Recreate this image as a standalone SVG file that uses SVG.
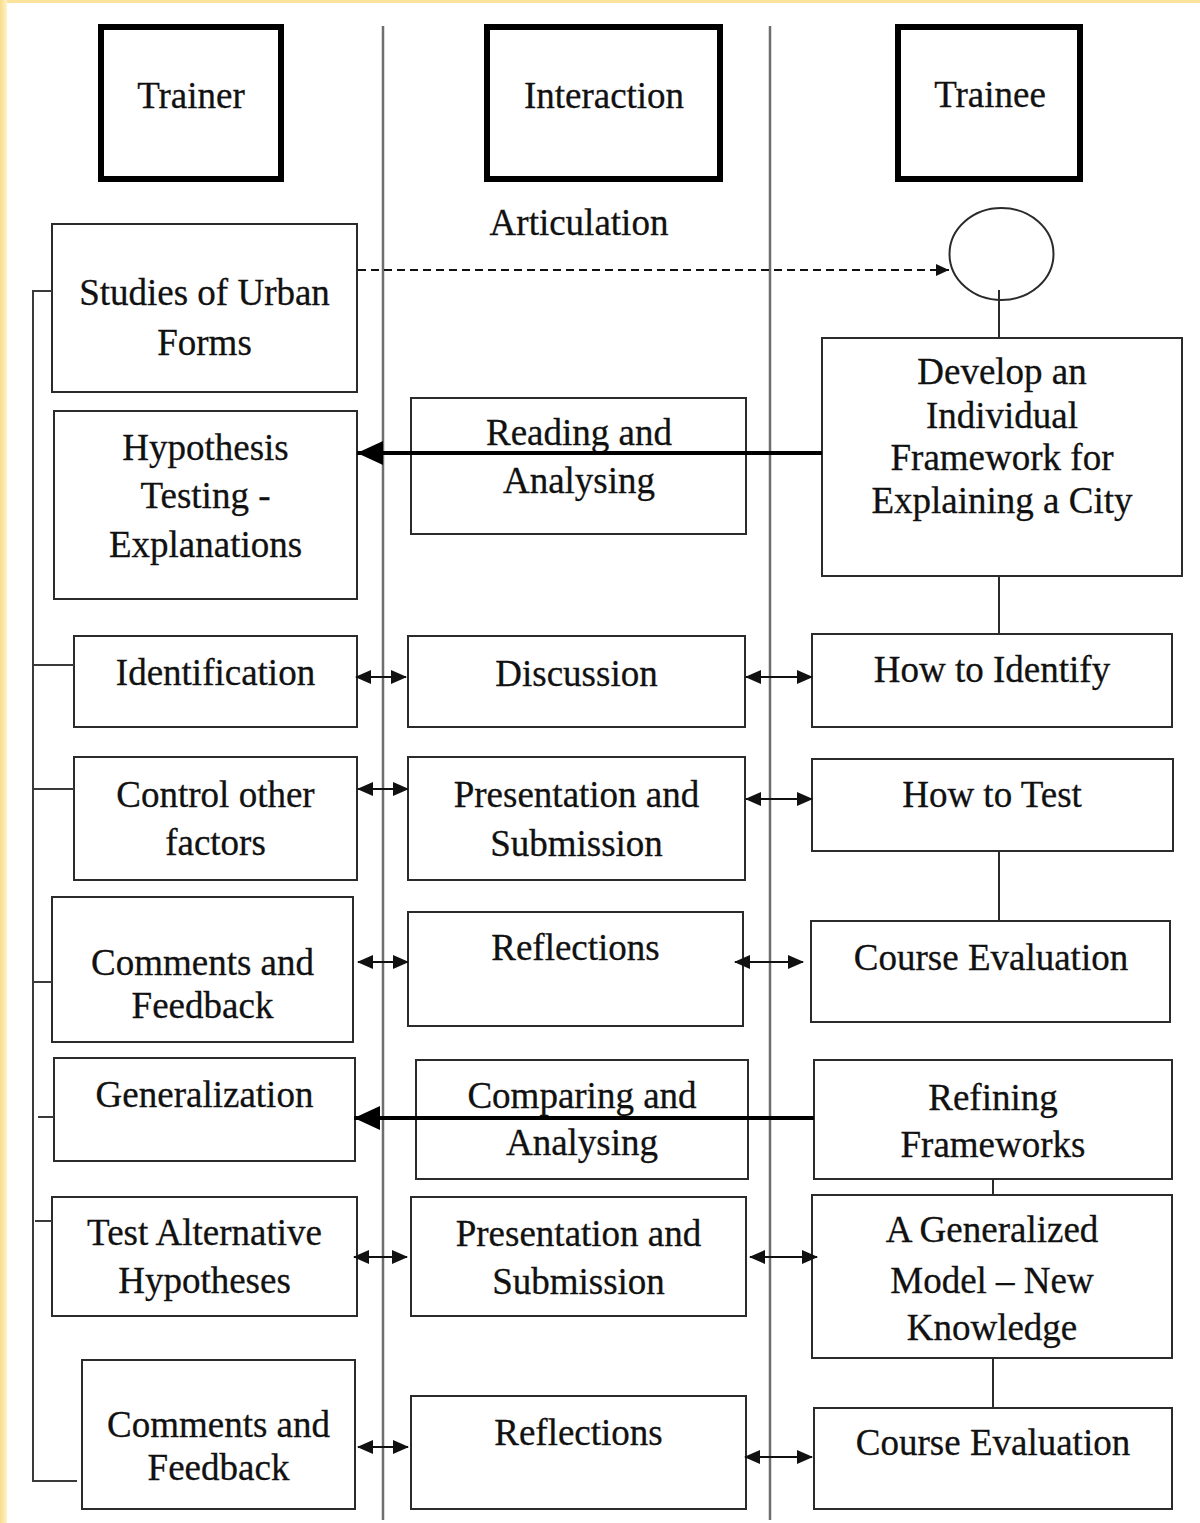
<svg xmlns="http://www.w3.org/2000/svg" width="1200" height="1523" viewBox="0 0 1200 1523">
  <defs>
    <linearGradient id="edgeLeft" x1="0" y1="0" x2="1" y2="0">
      <stop offset="0" stop-color="#f9dc8a"/>
      <stop offset="1" stop-color="#fdf3c8"/>
    </linearGradient>
    <marker id="headSmall" viewBox="0 0 16 16" refX="15" refY="8" markerWidth="16" markerHeight="16" markerUnits="userSpaceOnUse" orient="auto-start-reverse">
      <path d="M0,1 L16,8 L0,15 Z" fill="#111"/>
    </marker>
    <marker id="headBig" viewBox="0 0 26 24" refX="26" refY="12" markerWidth="26" markerHeight="24" markerUnits="userSpaceOnUse" orient="auto">
      <path d="M0,0 L26,12 L0,24 Z" fill="#000"/>
    </marker>
    <marker id="headDash" viewBox="0 0 13 12" refX="13" refY="6" markerWidth="13" markerHeight="12" markerUnits="userSpaceOnUse" orient="auto">
      <path d="M0,0 L13,6 L0,12 Z" fill="#111"/>
    </marker>
  </defs>
  <style>
    .box { fill: #fff; stroke: #2b2b2b; stroke-width: 2; }
    .head { fill: #fff; stroke: #000; stroke-width: 6; }
    .lane { stroke: #6e6e6e; stroke-width: 2.5; fill: none; }
    .bus { stroke: #3a3a3a; stroke-width: 2; fill: none; }
    .link { stroke: #2b2b2b; stroke-width: 2; fill: none; }
    .both { stroke: #111; stroke-width: 2.2; fill: none; marker-start: url(#headSmall); marker-end: url(#headSmall); }
    .thick { stroke: #000; stroke-width: 4; fill: none; marker-end: url(#headBig); }
    .dash { stroke: #111; stroke-width: 2; stroke-dasharray: 8 5; fill: none; marker-end: url(#headDash); }
    text { font-family: "Liberation Serif", "Times New Roman", serif; font-size: 37px; fill: #111; stroke: #111; stroke-width: 0.3; text-anchor: middle; }
  </style>

  <rect x="0" y="0" width="1200" height="1523" fill="#fff"/>
  <rect x="0" y="0" width="1200" height="3" fill="#fbe39c"/>
  <rect x="0" y="0" width="7" height="1523" fill="url(#edgeLeft)"/>

  <!-- swim lane dividers -->
  <g id="lanes">
    <line class="lane" x1="383" y1="26" x2="383" y2="1520"/>
    <line class="lane" x1="770" y1="26" x2="770" y2="1520"/>
  </g>

  <!-- column headers -->
  <g id="hdr-trainer">
    <rect class="head" x="101" y="27" width="180" height="152"/>
    <text x="191" y="108">Trainer</text>
  </g>
  <g id="hdr-interaction">
    <rect class="head" x="487" y="27" width="233" height="152"/>
    <text x="604" y="108">Interaction</text>
  </g>
  <g id="hdr-trainee">
    <rect class="head" x="898" y="27" width="182" height="152"/>
    <text x="990" y="107">Trainee</text>
  </g>
  <g id="lbl-articulation">
    <text x="579" y="235">Articulation</text>
  </g>

  <!-- trainee start point -->
  <g id="start">
    <ellipse cx="1001.5" cy="254" rx="52" ry="46" fill="none" stroke="#2b2b2b" stroke-width="2"/>
  </g>

  <!-- trainer column -->
  <g id="n-studies">
    <rect class="box" x="52" y="224" width="305" height="168"/>
    <text x="204.5" y="305">Studies of Urban</text>
    <text x="204.5" y="355">Forms</text>
  </g>
  <g id="n-hypothesis">
    <rect class="box" x="54" y="411" width="303" height="188"/>
    <text x="205.5" y="460">Hypothesis</text>
    <text x="205.5" y="508">Testing -</text>
    <text x="205.5" y="557">Explanations</text>
  </g>
  <g id="n-identification">
    <rect class="box" x="74" y="636" width="283" height="91"/>
    <text x="215.5" y="685">Identification</text>
  </g>
  <g id="n-control">
    <rect class="box" x="74" y="757" width="283" height="123"/>
    <text x="215.5" y="807">Control other</text>
    <text x="215.5" y="855">factors</text>
  </g>
  <g id="n-comments1">
    <rect class="box" x="52" y="897" width="301" height="145"/>
    <text x="202.5" y="975">Comments and</text>
    <text x="202.5" y="1018">Feedback</text>
  </g>
  <g id="n-generalization">
    <rect class="box" x="54" y="1058" width="301" height="103"/>
    <text x="204.5" y="1107">Generalization</text>
  </g>
  <g id="n-testalt">
    <rect class="box" x="52" y="1197" width="305" height="119"/>
    <text x="204.5" y="1245">Test Alternative</text>
    <text x="204.5" y="1293">Hypotheses</text>
  </g>
  <g id="n-comments2">
    <rect class="box" x="82" y="1360" width="273" height="149"/>
    <text x="218.5" y="1437">Comments and</text>
    <text x="218.5" y="1480">Feedback</text>
  </g>

  <!-- interaction column -->
  <g id="n-reading">
    <rect class="box" x="411" y="398" width="335" height="136"/>
    <text x="579" y="445">Reading and</text>
    <text x="579" y="493">Analysing</text>
  </g>
  <g id="n-discussion">
    <rect class="box" x="408" y="636" width="337" height="91"/>
    <text x="576.5" y="686">Discussion</text>
  </g>
  <g id="n-presentation1">
    <rect class="box" x="408" y="757" width="337" height="123"/>
    <text x="576.5" y="807">Presentation and</text>
    <text x="576.5" y="856">Submission</text>
  </g>
  <g id="n-reflections1">
    <rect class="box" x="408" y="912" width="335" height="114"/>
    <text x="575.5" y="960">Reflections</text>
  </g>
  <g id="n-comparing">
    <rect class="box" x="416" y="1060" width="332" height="119"/>
    <text x="582" y="1108">Comparing and</text>
    <text x="582" y="1155">Analysing</text>
  </g>
  <g id="n-presentation2">
    <rect class="box" x="411" y="1197" width="335" height="119"/>
    <text x="578.5" y="1246">Presentation and</text>
    <text x="578.5" y="1294">Submission</text>
  </g>
  <g id="n-reflections2">
    <rect class="box" x="411" y="1396" width="335" height="113"/>
    <text x="578.5" y="1445">Reflections</text>
  </g>

  <!-- trainee column -->
  <g id="n-develop">
    <rect class="box" x="822" y="338" width="360" height="238"/>
    <text x="1002" y="384">Develop an</text>
    <text x="1002" y="428">Individual</text>
    <text x="1002" y="470">Framework for</text>
    <text x="1002" y="513">Explaining a City</text>
  </g>
  <g id="n-howidentify">
    <rect class="box" x="812" y="634" width="360" height="93"/>
    <text x="992" y="682">How to Identify</text>
  </g>
  <g id="n-howtest">
    <rect class="box" x="812" y="759" width="361" height="92"/>
    <text x="992" y="807">How to Test</text>
  </g>
  <g id="n-eval1">
    <rect class="box" x="811" y="921" width="359" height="101"/>
    <text x="991" y="970">Course Evaluation</text>
  </g>
  <g id="n-refining">
    <rect class="box" x="814" y="1060" width="358" height="119"/>
    <text x="993" y="1110">Refining</text>
    <text x="993" y="1157">Frameworks</text>
  </g>
  <g id="n-generalized">
    <rect class="box" x="812" y="1195" width="360" height="163"/>
    <text x="992" y="1242">A Generalized</text>
    <text x="992" y="1293">Model – New</text>
    <text x="992" y="1340">Knowledge</text>
  </g>
  <g id="n-eval2">
    <rect class="box" x="814" y="1408" width="358" height="101"/>
    <text x="993" y="1455">Course Evaluation</text>
  </g>

  <!-- connectors -->
  <g id="connectors">
    <!-- trainer bus -->
    <polyline class="bus" points="52,291 33,291 33,1481 77,1481"/>
    <line class="bus" x1="33" y1="665" x2="74" y2="665"/>
    <line class="bus" x1="33" y1="789" x2="74" y2="789"/>
    <line class="bus" x1="33" y1="982" x2="52" y2="982"/>
    <line class="bus" x1="38" y1="1117" x2="54" y2="1117"/>
    <line class="bus" x1="35" y1="1221" x2="52" y2="1221"/>

    <!-- trainee chain -->
    <line class="link" x1="999" y1="290" x2="999" y2="338"/>
    <line class="link" x1="999" y1="576" x2="999" y2="634"/>
    <line class="link" x1="999" y1="851" x2="999" y2="921"/>
    <line class="link" x1="993" y1="1179" x2="993" y2="1195"/>
    <line class="link" x1="993" y1="1358" x2="993" y2="1408"/>

    <!-- articulation -->
    <line class="dash" x1="358" y1="270" x2="949" y2="270"/>

    <!-- feedback into trainer -->
    <line class="thick" x1="822" y1="453" x2="357" y2="453"/>
    <line class="thick" x1="814" y1="1118" x2="354" y2="1118"/>

    <!-- two-way exchanges -->
    <line class="both" x1="356" y1="677" x2="406" y2="677"/>
    <line class="both" x1="358" y1="789" x2="408" y2="789"/>
    <line class="both" x1="358" y1="962" x2="408" y2="962"/>
    <line class="both" x1="354" y1="1257" x2="407" y2="1257"/>
    <line class="both" x1="358" y1="1447" x2="408" y2="1447"/>

    <line class="both" x1="746" y1="677" x2="812" y2="677"/>
    <line class="both" x1="746" y1="799" x2="812" y2="799"/>
    <line class="both" x1="735" y1="962" x2="803" y2="962"/>
    <line class="both" x1="750" y1="1257" x2="817" y2="1257"/>
    <line class="both" x1="745" y1="1457" x2="812" y2="1457"/>
  </g>
</svg>
